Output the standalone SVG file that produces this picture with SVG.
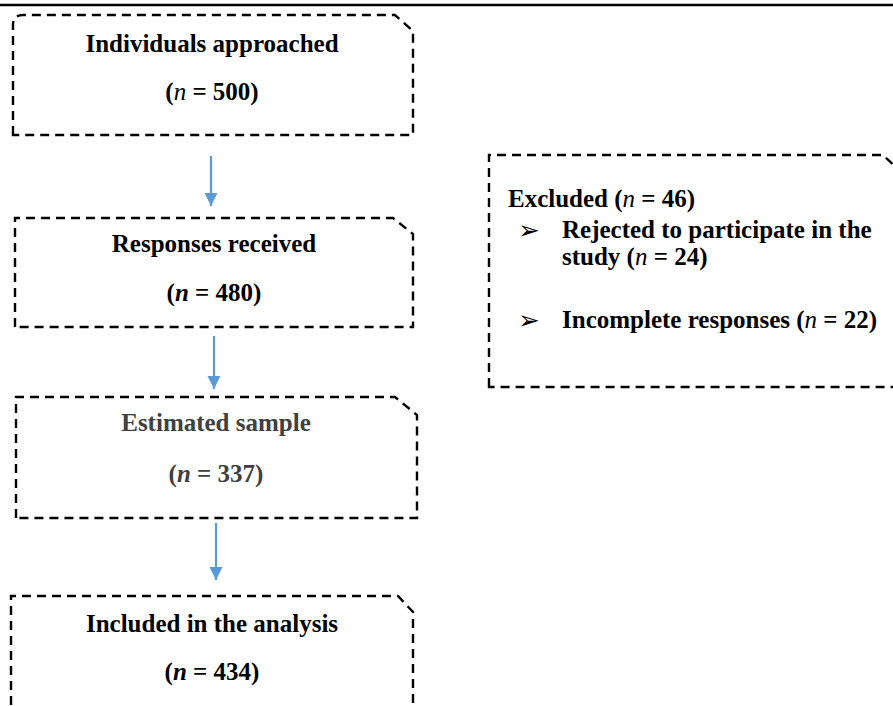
<svg xmlns="http://www.w3.org/2000/svg" width="893" height="706" viewBox="0 0 893 706">
<style>
.box{fill:none;stroke:#000;stroke-width:2.4;stroke-dasharray:9,6}
.t{font-family:"Liberation Serif","Times New Roman",serif;font-size:25px;font-weight:bold;fill:#000}
.c{text-anchor:middle}
.g{fill:#404040}
.it{font-style:italic;font-weight:normal}
.bi{font-style:italic;font-weight:bold}
.arr{stroke:#5B9BD5;stroke-width:2.2;fill:none}
.bul{font-family:"DejaVu Sans",sans-serif;font-size:26px;fill:#000}
</style>
<defs>
<marker id="ah" viewBox="0 0 10 10" refX="10" refY="5" markerWidth="6" markerHeight="6.5" markerUnits="strokeWidth" orient="auto">
<path d="M0,0 L10,5 L0,10 Z" fill="#5B9BD5"/>
</marker>
</defs>
<line x1="0" y1="5" x2="893" y2="5" stroke="#000" stroke-width="2.5"/>
<g id="connectors">
<line class="arr" x1="211" y1="156" x2="211" y2="206" marker-end="url(#ah)"/>
<line class="arr" x1="214" y1="336" x2="214" y2="389" marker-end="url(#ah)"/>
<line class="arr" x1="216" y1="523" x2="216" y2="580" marker-end="url(#ah)"/>
</g>
<g id="n1">
<path class="box" d="M13,135 V25 Q13,15 23,15 H395 L413,31 V135 Z"/>
<text class="t c" x="212" y="52">Individuals approached</text>
<text class="t c" x="212" y="100">(<tspan class="it">n</tspan> = 500)</text>
</g>
<g id="n2">
<path class="box" d="M15,327 V218 H393 L413,234 V327 Z"/>
<text class="t c" x="214" y="252">Responses received</text>
<text class="t c" x="214" y="301">(<tspan class="bi">n</tspan> = 480)</text>
</g>
<g id="n3">
<path class="box" d="M16,518 V397 H395 L417,415 V518 Z"/>
<text class="t c g" x="216" y="431">Estimated sample</text>
<text class="t c g" x="216" y="482">(<tspan class="bi">n</tspan> = 337)</text>
</g>
<g id="n4">
<path class="box" d="M11,720 V596 H398 L413,612 V720"/>
<text class="t c" x="212" y="632">Included in the analysis</text>
<text class="t c" x="212" y="680">(<tspan class="bi">n</tspan> = 434)</text>
</g>
<g id="n5">
<path class="box" d="M489,387 V155 H883 L903,174 V387 Z"/>
<text class="t" x="508" y="207">Excluded (<tspan class="it">n</tspan> = 46)</text>
<text class="bul" x="518" y="239">➢</text>
<text class="t" x="562" y="238">Rejected to participate in the</text>
<text class="t" x="562" y="265">study (<tspan class="it">n</tspan> = 24)</text>
<text class="bul" x="518" y="329">➢</text>
<text class="t" x="562" y="328">Incomplete responses (<tspan class="it">n</tspan> = 22)</text>
</g>
</svg>
